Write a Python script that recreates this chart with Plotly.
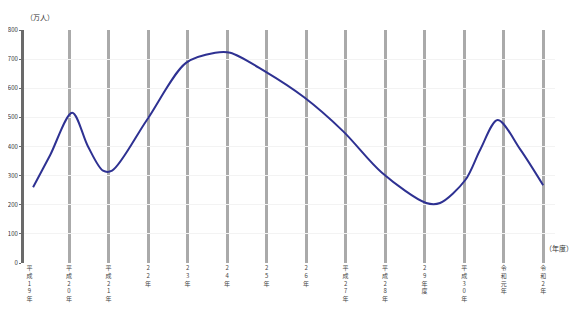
import plotly.graph_objects as go

# Data (x in category-tick units, y in chart units)
x_pos = [0.09, 0.52, 1.08, 1.48, 1.86, 2.09, 2.97, 3.96, 4.70, 5.08, 5.96, 6.95, 7.94, 8.92, 10.04, 10.39, 11.03, 11.41, 11.85, 12.42, 13.0]
values = [260, 370, 516, 400, 317, 317, 491, 687, 722, 722, 658, 569, 452, 310, 206, 206, 285, 390, 491, 390, 267]

tick_pos = list(range(14))
tick_text = ["平成19年", "平成20年", "平成21年", "22年", "23年", "24年", "25年", "26年",
             "平成27年", "平成28年", "29年度", "平成30年", "令和元年", "令和2年"]
grid_pos = list(range(1, 14))
y_ticks = [0, 100, 200, 300, 400, 500, 600, 700, 800]

def vert(s):
    return "<br>".join(list(s))

fig = go.Figure()
fig.add_trace(go.Scatter(
    x=x_pos, y=values, mode="lines",
    line=dict(color="#2e3192", width=2, shape="spline", smoothing=0.9),
    hoverinfo="skip", showlegend=False,
))

# page has an 8px body margin, so the figure is sized/offset to compensate
fig.update_layout(
    width=569, height=323,
    margin=dict(l=16, r=22, t=22, b=68),
    paper_bgcolor="white", plot_bgcolor="white",
    font=dict(family="Noto Sans CJK JP", size=7, color="#333333"),
    xaxis=dict(
        range=[-0.14, 13.3], tickmode="array", tickvals=tick_pos,
        ticktext=[vert(t) for t in tick_text], tickangle=0,
        showgrid=False,
        minor=dict(tickmode="array", tickvals=grid_pos, showgrid=True,
                   gridcolor="#aaaaaa", gridwidth=3, ticks=""),
        showline=False, zeroline=False, ticks="", automargin=False,
        tickfont=dict(size=6, color="#444444"),
    ),
    yaxis=dict(
        range=[0, 800], tickmode="array", tickvals=y_ticks,
        showgrid=True, gridcolor="#f3f3f3", gridwidth=1,
        showline=True, linecolor="#6a6a6a", linewidth=3,
        zeroline=False, ticks="outside", ticklen=2, tickcolor="#6a6a6a",
        automargin=False,
        tickfont=dict(size=6, color="#333333"),
    ),
    annotations=[
        dict(text="（万人）", x=0, y=1.0, xref="paper", yref="paper",
             xanchor="left", yanchor="bottom", yshift=6, showarrow=False,
             font=dict(size=7, color="#333333")),
        dict(text="（年度）", x=1.0, y=0.0, xref="paper", yref="paper",
             xanchor="right", yanchor="bottom", xshift=20, yshift=8, showarrow=False,
             font=dict(size=7, color="#333333")),
    ],
)

fig.write_html("out.html")
